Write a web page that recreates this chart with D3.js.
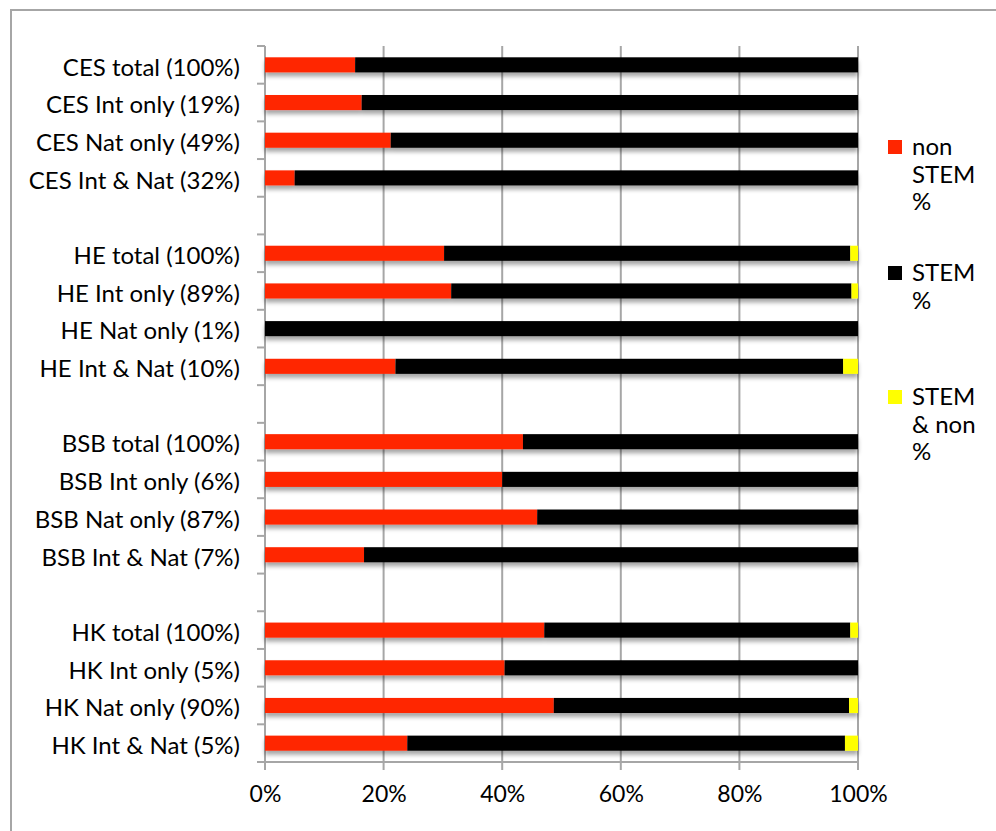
<!DOCTYPE html>
<html>
<head>
<meta charset="utf-8">
<script src="https://cdn.jsdelivr.net/npm/d3@7"></script>
<style>
  html, body { margin: 0; padding: 0; background: #fff; }
  svg { display: block; font-family: Lato, "Noto Sans", sans-serif; }
</style>
</head>
<body>
<svg id="chart" width="996" height="831"></svg>
<script>
// Rows from top to bottom; empty strings are spacer rows between groups.
const categories = [
  "CES total (100%)", "CES Int only (19%)", "CES Nat only (49%)", "CES Int & Nat (32%)", "",
  "HE total (100%)", "HE Int only (89%)", "HE Nat only (1%)", "HE Int & Nat (10%)", "",
  "BSB total (100%)", "BSB Int only (6%)", "BSB Nat only (87%)", "BSB Int & Nat (7%)", "",
  "HK total (100%)", "HK Int only (5%)", "HK Nat only (90%)", "HK Int & Nat (5%)"
];
// Share (%) of each row that is non STEM
const nonStem = [
  15.2, 16.3, 21.2, 5.0, null,
  30.2, 31.4, 0, 22.0, null,
  43.5, 40.0, 45.9, 16.7, null,
  47.1, 40.4, 48.7, 24.0
];
// Share (%) that is STEM & non
const stemAndNon = [
  0, 0, 0, 0, null,
  1.3, 1.1, 0, 2.5, null,
  0, 0, 0, 0, null,
  1.3, 0, 1.5, 2.2
];
// Share (%) that is STEM
const stem = nonStem.map((v, i) => v == null ? null : 100 - v - stemAndNon[i]);

const seriesNames = ["non STEM %", "STEM %", "STEM & non %"];
const seriesColors = ["#ff2600", "#000000", "#ffff00"];
const xTicks = [0, 20, 40, 60, 80, 100];

const FONT = "Lato, 'Noto Sans', sans-serif";
const FS = 24;

const svg = d3.select("#chart");
const margin = { left: 265, right: 138, top: 46, bottom: 69 };
const W = 996, H = 831;

// outer frame
svg.append("rect")
  .attr("x", 11).attr("y", 10)
  .attr("width", 1100).attr("height", 1000)
  .attr("fill", "none").attr("stroke", "#a6a6a6").attr("stroke-width", 2);

const x = d3.scaleLinear().domain([0, 100]).range([margin.left, W - margin.right]);
const y = d3.scaleBand()
  .domain(d3.range(categories.length))
  .range([margin.top, H - margin.bottom])
  .paddingInner(0.6).paddingOuter(0.3);

const gridColor = "#a6a6a6";

// vertical gridlines, extending below the axis as ticks
svg.append("g").selectAll("line").data(xTicks).join("line")
  .attr("x1", d => x(d)).attr("x2", d => x(d))
  .attr("y1", margin.top).attr("y2", H - margin.bottom + 8)
  .attr("stroke", gridColor).attr("stroke-width", 2);

// x axis labels
const xAxis = d3.axisBottom(x).tickValues(xTicks).tickFormat(d => d + "%").tickSize(0).tickPadding(24);
const gx = svg.append("g").attr("transform", `translate(0,${H - margin.bottom})`).call(xAxis);
gx.select(".domain").remove();
gx.selectAll("text").attr("font-size", 23).attr("fill", "#000").attr("font-family", FONT);

// y axis: ticks sit on the boundaries between rows
const boundaries = d3.range(categories.length + 1).map(i => y.range()[0] + i * y.step());
const gy = svg.append("g");
gy.selectAll("line.tick").data(boundaries).join("line")
  .attr("x1", margin.left - 8).attr("x2", margin.left)
  .attr("y1", d => d).attr("y2", d => d)
  .attr("stroke", gridColor).attr("stroke-width", 2);
// bottom axis line
svg.append("line")
  .attr("x1", margin.left - 8).attr("x2", x(100))
  .attr("y1", H - margin.bottom).attr("y2", H - margin.bottom)
  .attr("stroke", gridColor).attr("stroke-width", 2);
svg.append("line")
  .attr("x1", margin.left).attr("x2", margin.left)
  .attr("y1", margin.top).attr("y2", H - margin.bottom)
  .attr("stroke", gridColor).attr("stroke-width", 2);

// category labels
svg.append("g").selectAll("text").data(categories).join("text")
  .attr("x", margin.left - 25)
  .attr("y", (d, i) => y(i) + y.bandwidth() / 2)
  .attr("dy", "0.45em")
  .attr("text-anchor", "end")
  .attr("font-size", FS)
  .attr("fill", "#000")
  .text(d => d);

// soft shadow under bars
const defs = svg.append("defs");
const f = defs.append("filter").attr("id", "shadow")
  .attr("x", "-5%").attr("y", "-50%").attr("width", "110%").attr("height", "250%");
f.append("feDropShadow").attr("dx", 0).attr("dy", 4).attr("stdDeviation", 2)
  .attr("flood-color", "#000").attr("flood-opacity", 0.35);

// stacked bars
const rows = categories.map((c, i) => ({ i, values: [nonStem[i], stem[i], stemAndNon[i]] }))
  .filter(r => r.values[0] != null);

const barG = svg.append("g");
rows.forEach(r => {
  const g = barG.append("g").attr("filter", "url(#shadow)");
  let acc = 0;
  r.values.forEach((v, k) => {
    if (v > 0) {
      g.append("rect")
        .attr("x", x(acc))
        .attr("y", y(r.i))
        .attr("width", x(acc + v) - x(acc))
        .attr("height", y.bandwidth())
        .attr("fill", seriesColors[k]);
    }
    acc += v;
  });
});

// legend
const legendX = 888;
const legendY = [140, 266, 390];
const legend = svg.append("g");
seriesNames.forEach((name, k) => {
  const g = legend.append("g").attr("transform", `translate(${legendX},${legendY[k]})`);
  g.append("rect").attr("width", 14).attr("height", 14).attr("fill", seriesColors[k]);
  const t = g.append("text").attr("x", 24).attr("y", 15).attr("font-size", FS).attr("fill", "#000");
  // wrap words to a narrow column
  const words = name.split(" ");
  let line = [];
  let tspan = t.append("tspan").attr("x", 24).attr("dy", 0);
  words.forEach(w => {
    line.push(w);
    tspan.text(line.join(" "));
    if (tspan.node().getComputedTextLength() > 72 && line.length > 1) {
      line.pop();
      tspan.text(line.join(" "));
      line = [w];
      tspan = t.append("tspan").attr("x", 24).attr("dy", 27.5).text(w);
    }
  });
});
</script>
</body>
</html>
